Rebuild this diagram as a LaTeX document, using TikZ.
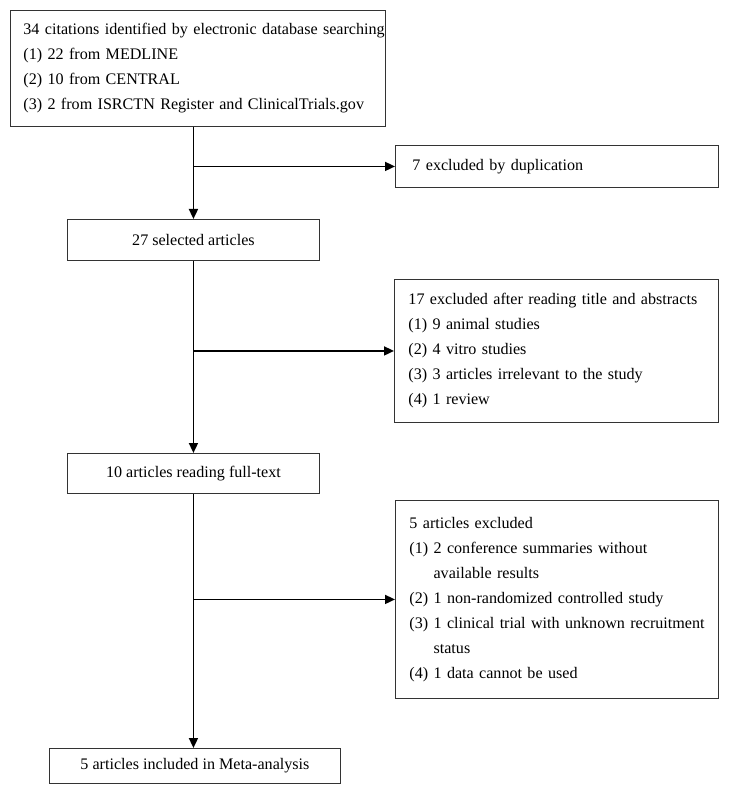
\documentclass[tikz,border=0pt]{standalone}
\usepackage{fontspec}
\setmainfont{Liberation Serif}
\usetikzlibrary{arrows.meta}
\begin{document}
\begin{tikzpicture}[x=1pt,y=-1pt,
  box/.style={draw=black!80, line width=0.9pt, inner sep=0pt, anchor=north west,
    font=\fontsize{16.1}{25}\selectfont, text=black},
  lbox/.style={box, align=left},
  cbox/.style={box, align=center},
  arr/.style={line width=1.7pt, -{Triangle[length=10pt,width=9pt]}}
]
\useasboundingbox (0,0) rectangle (729,794);
\node[lbox, text width=375pt, minimum height=116pt] (b1) at (10,10)
  {\leftskip=13pt\relax 34 citations identified by electronic database searching\\
   (1) 22 from MEDLINE\\
   (2) 10 from CENTRAL\\
   (3) 2 from ISRCTN Register and ClinicalTrials.gov\par};
\node[lbox, text width=323pt, minimum height=42pt] (e1) at (395,145)
  {\leftskip=17pt\relax 7 excluded by duplication\par};
\node[cbox, minimum width=252pt, minimum height=41pt] (b2) at (67,219)
  {27 selected articles};
\node[lbox, text width=324pt, minimum height=143pt] (e2) at (394,279)
  {\leftskip=14pt\relax 17 excluded after reading title and abstracts\\
   (1) 9 animal studies\\
   (2) 4 vitro studies\\
   (3) 3 articles irrelevant to the study\\
   (4) 1 review\par};
\node[cbox, minimum width=252pt, minimum height=40pt] (b3) at (67,453)
  {10 articles reading full-text};
\node[lbox, text width=323pt, minimum height=198pt] (e3) at (395,500)
  {\leftskip=14pt\relax 5 articles excluded\\
   (1) 2 conference summaries without\\
   \phantom{(1)~}available results\\
   (2) 1 non-randomized controlled study\\
   (3) 1 clinical trial with unknown recruitment\\
   \phantom{(3)~}status\\
   (4) 1 data cannot be used\par};
\node[cbox, minimum width=291pt, minimum height=35pt] (b4) at (49,748)
  {5 articles included in Meta-analysis};
\draw[arr] (b2.north |- b1.south) -- (b2.north);
\draw[arr] (b2.north |- e1.west) -- (e1.west);
\draw[arr] (b2.south) -- (b3.north);
\draw[arr] (b2.south |- e2.west) -- (e2.west);
\draw[arr] (b3.south) -- (b3.south |- b4.north);
\draw[arr] (b3.south |- e3.west) -- (e3.west);
\end{tikzpicture}
\end{document}
